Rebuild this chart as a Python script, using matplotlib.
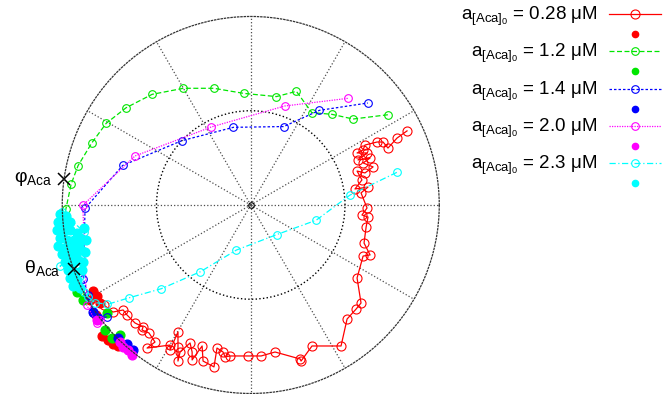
import matplotlib

matplotlib.use("Agg")

import matplotlib.pyplot as plt
import numpy as np

plt.rcParams['font.family'] = ['Liberation Sans', 'DejaVu Sans']
plt.rcParams['mathtext.fontset'] = 'custom'
plt.rcParams['mathtext.rm'] = 'Liberation Sans'
plt.rcParams['mathtext.it'] = 'Liberation Sans:italic'
plt.rcParams['mathtext.default'] = 'regular'

# initial concentrations and MATLAB-ish colours
conc = ['0.28', '1.2', '1.4', '2.0', '2.3']
colors = ['#ff0000', '#00e600', '#0000ff', '#ff00ff', '#00ffff']
styles = ['-', (0, (4, 2)), (0, (2, 1.6)), (0, (1, 1)), (0, (5, 2, 1, 2))]

# trajectories (re, im), open circles
red_re = [-0.826, -0.778, -0.731, -0.677, -0.656, -0.614, -0.571, -0.577, -0.540, -0.508,
          -0.550, -0.428, -0.428, -0.386, -0.386, -0.386, -0.375, -0.322, -0.311, -0.311,
          -0.258, -0.253, -0.195, -0.179, -0.147, -0.136, -0.110, -0.014, 0.055, 0.129,
          0.262, 0.267, 0.325, 0.479, 0.511, 0.559, 0.585, 0.564, 0.596, 0.633,
          0.601, 0.612, 0.622, 0.590, 0.617, 0.585, 0.622, 0.553, 0.590, 0.564,
          0.606, 0.649, 0.596, 0.633, 0.569, 0.617, 0.564, 0.596, 0.606, 0.670,
          0.702, 0.728, 0.776, 0.829]
red_im = [-0.488, -0.531, -0.568, -0.557, -0.584, -0.626, -0.647, -0.663, -0.679, -0.727,
          -0.759, -0.743, -0.769, -0.674, -0.753, -0.828, -0.780, -0.732, -0.780, -0.822,
          -0.748, -0.828, -0.859, -0.759, -0.780, -0.806, -0.801, -0.801, -0.801, -0.780,
          -0.817, -0.828, -0.748, -0.748, -0.605, -0.552, -0.520, -0.387, -0.271, -0.265,
          -0.202, -0.117, -0.064, -0.053, -0.016, 0.064, 0.095, 0.085, 0.133, 0.180,
          0.170, 0.202, 0.223, 0.249, 0.239, 0.276, 0.276, 0.292, 0.318, 0.334,
          0.334, 0.302, 0.355, 0.393]

green_re = [-0.905, -0.920, -0.975, -0.994, -0.981, -0.953, -0.916, -0.842, -0.767, -0.661,
            -0.523, -0.357, -0.196, -0.037, 0.136, 0.242, 0.324, 0.430, 0.543, 0.730]
green_im = [-0.460, -0.398, -0.221, -0.080, -0.023, 0.110, 0.209, 0.331, 0.433, 0.516,
            0.587, 0.619, 0.619, 0.592, 0.575, 0.603, 0.490, 0.481, 0.456, 0.479]

blue_re = [-0.764, -0.817, -0.835, -0.862, -0.888, -0.879, -0.679, -0.366, -0.092, 0.175,
           0.364, 0.621]
blue_im = [-0.593, -0.610, -0.575, -0.477, -0.394, -0.018, 0.210, 0.341, 0.412, 0.416,
           0.502, 0.541]

magenta_re = [-0.799, -0.817, -0.870, -0.891, -0.614, -0.209, 0.180, 0.518]
magenta_im = [-0.610, -0.628, -0.531, -0.002, 0.260, 0.414, 0.525, 0.566]

cyan_re = [0.775, 0.527, 0.347, 0.138, -0.076, -0.267, -0.474, -0.644, -0.760, -0.826,
           -0.863, -0.884, -0.916, -0.906, -1.012, -0.895, -0.884, -1.001]
cyan_im = [0.173, 0.053, -0.081, -0.157, -0.239, -0.354, -0.444, -0.492, -0.527, -0.518,
           -0.488, -0.462, -0.424, -0.377, -0.324, -0.239, -0.143, -0.037]

# end points, filled dots
red_dot_re = [-0.837, -0.815, -0.799, -0.853, -0.789, -0.757, -0.731, -0.704, -0.821]
red_dot_im = [-0.456, -0.483, -0.520, -0.504, -0.695, -0.716, -0.737, -0.748, -0.584]

green_dot_re = [-0.923, -0.888, -0.764, -0.773, -0.737, -0.693]
green_dot_im = [-0.460, -0.504, -0.575, -0.663, -0.706, -0.690]

blue_dot_re = [-0.702, -0.658, -0.623, -0.837, -0.810]
blue_dot_im = [-0.707, -0.737, -0.769, -0.568, -0.599]

magenta_dot_re = [-0.676, -0.649, -0.631, -0.693, -0.815]
magenta_dot_im = [-0.752, -0.769, -0.796, -0.727, -0.610]

cyan_dot_re = [-1.012, -0.980, -1.022, -0.990, -0.959, -1.028, -0.996, -0.959, -0.921, -1.012,
               -0.975, -0.937, -0.906, -1.022, -0.985, -0.948, -0.911, -1.001, -0.964, -0.927,
               -0.985, -0.948, -0.916, -0.969, -0.932, -0.959, -0.921, -0.943, -0.906, -0.884,
               -0.874, -0.879, -0.890, -0.895]
cyan_dot_im = [-0.048, -0.058, -0.090, -0.101, -0.090, -0.133, -0.143, -0.133, -0.149, -0.175,
               -0.186, -0.186, -0.175, -0.218, -0.228, -0.223, -0.218, -0.260, -0.271, -0.260,
               -0.302, -0.308, -0.292, -0.345, -0.355, -0.387, -0.398, -0.430, -0.440, -0.122,
               -0.186, -0.249, -0.302, -0.345]

phi_aca = 172.0    # deg
theta_aca = 200.0  # deg

open_re = [red_re, green_re, blue_re, magenta_re, cyan_re]
open_im = [red_im, green_im, blue_im, magenta_im, cyan_im]
dot_re = [red_dot_re, green_dot_re, blue_dot_re, magenta_dot_re, cyan_dot_re]
dot_im = [red_dot_im, green_dot_im, blue_dot_im, magenta_dot_im, cyan_dot_im]


def to_polar(re, im):
    re = np.asarray(re)
    im = np.asarray(im)
    return np.arctan2(im, re), np.hypot(re, im)


fig = plt.figure(figsize=(6.7, 3.94), dpi=100)
ax = fig.add_axes([0.0929, 0.0013, 0.5627, 0.9569], projection='polar')
ax.set_ylim(0, 1)
ax.set_xticks(np.deg2rad(np.arange(0, 360, 30)))
ax.set_xticklabels([])
ax.set_yticks([0.5])
ax.set_yticklabels([])
ax.xaxis.grid(True, color='0.3', linestyle=':', linewidth=0.9)
ax.yaxis.grid(True, color='k', linestyle=':', linewidth=1.0)
ax.spines['polar'].set_linestyle(':')
ax.spines['polar'].set_linewidth(0.9)
ax.spines['polar'].set_color('0.2')

ax.plot([0], [0], 'o', ms=4, mfc='none', mec='k', mew=0.8)

handles = []
labels = []
for i in range(5):
    th, r = to_polar(open_re[i], open_im[i])
    ms = 6.5 if i == 0 else 5.5
    h, = ax.plot(th, r, color=colors[i], linestyle=styles[i], linewidth=0.9,
                 marker='o', mfc='none', mec=colors[i], ms=ms, mew=0.8, clip_on=False)
    th, r = to_polar(dot_re[i], dot_im[i])
    hd, = ax.plot(th, r, linestyle='none', marker='o', color=colors[i], ms=6.3,
                  clip_on=False)
    handles += [h, hd]
    labels += [r'a$_{[Aca]_0}$ = ' + conc[i] + ' μM', ' ']

ax.plot(np.deg2rad([phi_aca, theta_aca]), [1, 1], linestyle='none', marker='x',
        color='k', ms=9, mew=1.1, clip_on=False)
ax.text(np.deg2rad(172.3), 1.06, r'φ$_{Aca}$', ha='right', va='center', fontsize=14)
ax.text(np.deg2rad(198.4), 1.06, r'θ$_{Aca}$', ha='right', va='center', fontsize=14)

leg = ax.legend(handles, labels, loc='upper right', bbox_to_anchor=(661 / 670, 1 - 5 / 394),
                bbox_transform=fig.transFigure, frameon=False, markerfirst=False,
                fontsize=13.5, handlelength=2.8, handletextpad=0.6, labelspacing=0.0,
                handleheight=0.5, borderpad=0, borderaxespad=0)
for k, t in enumerate(leg.get_texts()):
    if k % 2 == 1:
        t.set_fontsize(7)
for k, lh in enumerate(leg.legend_handles):
    if k % 2 == 1:
        lh.set_markersize(4.5)

plt.savefig('out.png', dpi=100)
